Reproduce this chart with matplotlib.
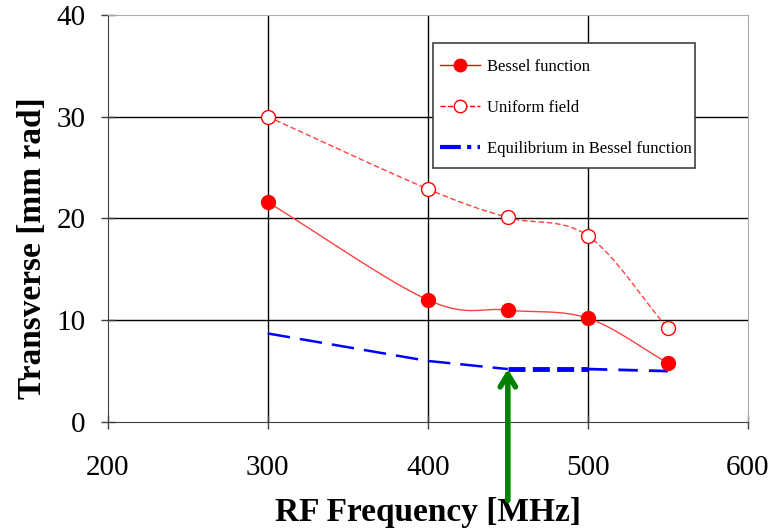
import numpy as np
import matplotlib
matplotlib.use("Agg")
import matplotlib.pyplot as plt
from matplotlib.patches import Rectangle

freq = [300, 400, 450, 500, 550]
bessel = [21.6, 12.0, 11.0, 10.2, 5.8]
uniform = [30.0, 22.9, 20.1, 18.3, 9.2]
equilibrium = [8.7, 6.0, 5.2, 5.2, 5.0]
xticks = [200, 300, 400, 500, 600]
yticks = [0, 10, 20, 30, 40]


def smooth(x, y, n=30):
    # Catmull-Rom rendering of an Excel-style smoothed line through the points
    x = np.asarray(x, float); y = np.asarray(y, float)
    px = np.concatenate([[2 * x[0] - x[1]], x, [2 * x[-1] - x[-2]]])
    py = np.concatenate([[2 * y[0] - y[1]], y, [2 * y[-1] - y[-2]]])
    xs, ys = [], []
    t = np.linspace(0, 1, n)
    for i in range(1, len(px) - 2):
        p0, p1, p2, p3 = [np.array([px[j], py[j]]) for j in range(i - 1, i + 3)]
        tt = t[:, None]
        pts = 0.5 * ((2 * p1) + (-p0 + p2) * tt + (2 * p0 - 5 * p1 + 4 * p2 - p3) * tt ** 2
                     + (-p0 + 3 * p1 - 3 * p2 + p3) * tt ** 3)
        xs.extend(pts[:, 0]); ys.extend(pts[:, 1])
    return np.array(xs), np.array(ys)


plt.rcParams['font.family'] = ['Liberation Serif', 'DejaVu Serif']
fig = plt.figure(figsize=(7.75, 5.28), dpi=100)
ax = fig.add_axes([0.139, 0.2008, 0.826, 0.7708])

for v in yticks[1:-1]:
    ax.axhline(v, color='black', lw=1, zorder=0)
for v in xticks[1:-1]:
    ax.axvline(v, color='black', lw=1, zorder=0)

sx, sy = smooth(freq, bessel)
ax.plot(sx, sy, color='#ff4040', lw=1, zorder=2)
ax.plot(freq, bessel, 'o', color='red', ms=10, zorder=3)

ux, uy = smooth(freq, uniform)
ax.plot(ux, uy, color='#ff4040', lw=1, ls=(0, (4, 2)), zorder=2)
ax.plot(freq, uniform, 'o', mfc='white', mec='red', mew=1, ms=10, zorder=3)

ax.plot(freq[:3], equilibrium[:3], color='blue', lw=1.8, ls=(0, (9, 4)), zorder=2)
ax.plot(freq[2:4], equilibrium[2:4], color='blue', lw=3.5, ls=(0, (3.5, 1.5)), zorder=2)
ax.plot(freq[3:], equilibrium[3:], color='blue', lw=2, ls=(0, (7, 4)), zorder=2)

# legend frame
ax.add_patch(Rectangle((0.508, 0.624), 0.409, 0.307, transform=ax.transAxes,
                       facecolor='white', edgecolor='#404040', lw=1.2, zorder=4))

# legend proxies
h1, = ax.plot([], [], '-o', color='red', lw=1, ms=9)
h2, = ax.plot([], [], '--o', color='red', mfc='white', lw=1, ms=9)
h3, = ax.plot([], [], color='blue', lw=3, ls=(0, (5, 1.5, 1, 1.5)))
leg = ax.legend([h1, h2, h3], ['Bessel function', 'Uniform field', 'Equilibrium in Bessel function'],
                loc='upper left', bbox_to_anchor=(0.519, 0.893), fontsize=12, frameon=False,
                labelspacing=1.5, handlelength=2.4,
                handletextpad=0.4, borderpad=0, borderaxespad=0)
leg.set_zorder(5)

ax.annotate('', xy=(freq[2], equilibrium[2]), xytext=(freq[2], -7.7),
            xycoords='data', textcoords='data', annotation_clip=False,
            arrowprops=dict(arrowstyle='->,head_length=0.9,head_width=0.55', color='green',
                            lw=4, shrinkA=0, shrinkB=0), zorder=5)

ax.set_xlim(200, 600)
ax.set_ylim(0, 40)
ax.set_xticks(xticks)
ax.set_yticks(yticks)
ax.tick_params(axis='both', labelsize=21, direction='inout', length=10, width=1, color='#404040')
ax.tick_params(axis='x', pad=19)
ax.tick_params(axis='y', pad=11)
for s in ['top', 'right']:
    ax.spines[s].set_color('#aaaaaa')
for s in ['left', 'bottom']:
    ax.spines[s].set_color('#404040')
ax.set_xlabel('RF Frequency [MHz]', fontsize=24, fontweight='bold', labelpad=11)
ax.set_ylabel('Transverse [mm rad]', fontsize=24, fontweight='bold')
ax.yaxis.set_label_coords(-0.093, 0.4275)

fig.savefig('out.png', dpi=100)
